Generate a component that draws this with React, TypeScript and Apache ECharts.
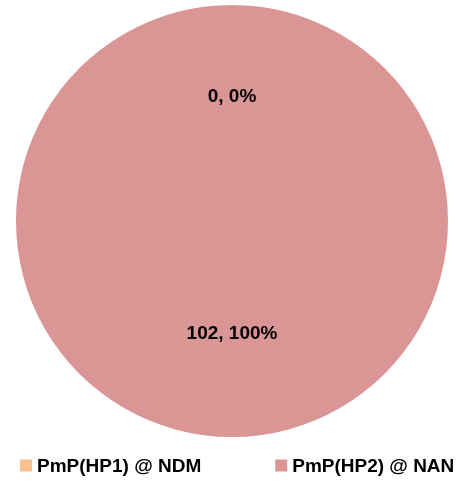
import React, { useEffect, useRef } from "react";
import * as echarts from "echarts";

const categories = ["PmP(HP1) @ NDM", "PmP(HP2) @ NAN"];
const values = [0, 102];
const colors = ["#FAC090", "#DA9694"];

export default function App() {
  const ref = useRef<HTMLDivElement>(null);
  useEffect(() => {
    if (!ref.current) return;
    const chart = echarts.init(ref.current, null, { renderer: "svg" });
    const total = values.reduce((a, b) => a + b, 0);
    chart.setOption({
      animation: false,
      legend: {
        orient: "horizontal",
        bottom: 6,
        left: 15,
        width: 460,
        itemWidth: 12,
        itemHeight: 12,
        itemGap: 74,
        icon: "rect",
        textStyle: {
          fontFamily: "Liberation Sans, Arial, sans-serif",
          fontWeight: "bold",
          fontSize: 19,
          color: "#000",
        },
        data: categories,
      },
      series: [
        {
          type: "pie",
          center: [232, 221],
          radius: 216,
          startAngle: 90,
          clockwise: true,
          avoidLabelOverlap: false,
          minShowLabelAngle: 0,
          label: {
            show: true,
            position: "inside",
            color: "#000",
            fontFamily: "Liberation Sans, Arial, sans-serif",
            fontWeight: "bold",
            fontSize: 19,
            formatter: (p: any) => `${p.value}, ${Math.round((p.value / total) * 100)}%`,
          },
          labelLine: { show: false },
          emphasis: { disabled: true },
          data: categories.map((name, i) => ({
            name,
            value: values[i],
            itemStyle: { color: colors[i] },
            label: i === 0 ? { offset: [0, -15] } : undefined,
          })),
        },
      ],
    });
    return () => chart.dispose();
  }, []);
  return (
    <div
      ref={ref}
      style={{ position: "fixed", left: 0, top: 0, width: 465, height: 486 }}
    />
  );
}
